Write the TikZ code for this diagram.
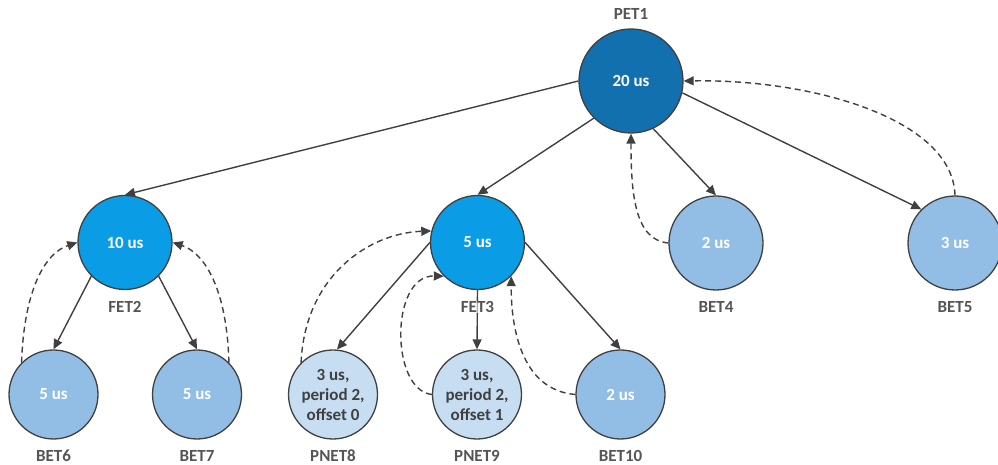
\documentclass[tikz,border=0pt]{standalone}
\usepackage{fontspec}
\setmainfont{Carlito}
\usetikzlibrary{arrows.meta}

\definecolor{rootblue}{HTML}{1170AD}
\definecolor{midblue}{HTML}{0A9CE5}
\definecolor{leafblue}{HTML}{92BEE6}
\definecolor{paleblue}{HTML}{C6DDF2}
\definecolor{edgegray}{HTML}{404040}
\definecolor{labelgray}{HTML}{555555}

\tikzset{
  task/.style={circle, draw=edgegray, line width=1.3pt, inner sep=0pt,
    font=\bfseries\fontsize{17}{20}\selectfont, text=white, align=center},
  roottask/.style={task, fill=rootblue, minimum size=104pt},
  midtask/.style={task, fill=midblue, minimum size=94pt},
  leaftask/.style={task, fill=leafblue, minimum size=94pt},
  lowtask/.style={task, fill=leafblue, minimum size=89pt},
  pertask/.style={task, fill=paleblue, minimum size=89pt, text=edgegray},
  tasklabel/.style={font=\bfseries\fontsize{17}{20}\selectfont, text=labelgray, inner sep=0.5pt},
  call/.style={draw=edgegray, line width=1.4pt, -{Triangle[length=10pt,width=9pt]}},
  back/.style={call, dash pattern=on 6pt off 4pt},
}

\begin{document}
\begin{tikzpicture}[x=1pt,y=1pt]
\useasboundingbox (0,0) rectangle (998,465);

% task circles
\node[roottask] (pet1) at (631,384) {20 us};
\node[midtask]  (fet2) at (125,222.5) {10 us};
\node[midtask]  (fet3) at (477.5,222.5) {5 us};
\node[leaftask] (bet4) at (716,222) {2 us};
\node[leaftask] (bet5) at (955,222) {3 us};
\node[lowtask]  (bet6) at (53.5,70.5) {5 us};
\node[lowtask]  (bet7) at (197,70.5) {5 us};
\node[pertask]  (pnet8) at (333,70.5) {3 us,\\period 2,\\offset 0};
\node[pertask]  (pnet9) at (477,70.5) {3 us,\\period 2,\\offset 1};
\node[lowtask]  (bet10) at (620.5,70.5) {2 us};

% calls down the tree
\draw[call] (pet1.west) -- (fet2.north);
\draw[call] (pet1.225) -- (fet3.north);
\draw[call] (pet1.295) -- (bet4.north);
\draw[call] (pet1.347) -- (bet5.135);
\draw[call] (fet2.225) -- (bet6.north);
\draw[call] (fet2.315) -- (bet7.north);
\draw[call] (fet3.west) -- (pnet8.85);
\draw[call] (fet3.south) -- (pnet9.north);
\draw[call] (fet3.east) -- (bet10.north);

% returns back up
\draw[back] (bet6.135) .. controls (24,175) and (45,212) .. (fet2.west);
\draw[back] (bet7.45) .. controls (227,175) and (205,212) .. (fet2.east);
\draw[back] (pnet8.135) .. controls (305,190) and (370,232) .. (fet3.166);
\draw[back] (pnet9.west) .. controls (390,75) and (390,190) .. (fet3.225);
\draw[back] (bet10.west) .. controls (520,75) and (511,140) .. (fet3.315);
\draw[back] (bet4.west) .. controls (635,225) and (631,270) .. (pet1.south);
\draw[back] (bet5.north) .. controls (953,345) and (815,386) .. (pet1.east);

% task names
\node[tasklabel] (l1) at (631,451) {PET1};
\node[tasklabel] (l2) at (125,158) {FET2};
\node[tasklabel, fill=white, fill opacity=0.6, text opacity=1] (l3) at (477.5,158) {FET3};
\node[tasklabel] (l4) at (716,158) {BET4};
\node[tasklabel] (l5) at (955,158) {BET5};
\node[tasklabel] (l6) at (53.5,9) {BET6};
\node[tasklabel] (l7) at (197,9) {BET7};
\node[tasklabel] (l8) at (333,9) {PNET8};
\node[tasklabel] (l9) at (477,9) {PNET9};
\node[tasklabel] (l10) at (620.5,9) {BET10};
\end{tikzpicture}
\end{document}
